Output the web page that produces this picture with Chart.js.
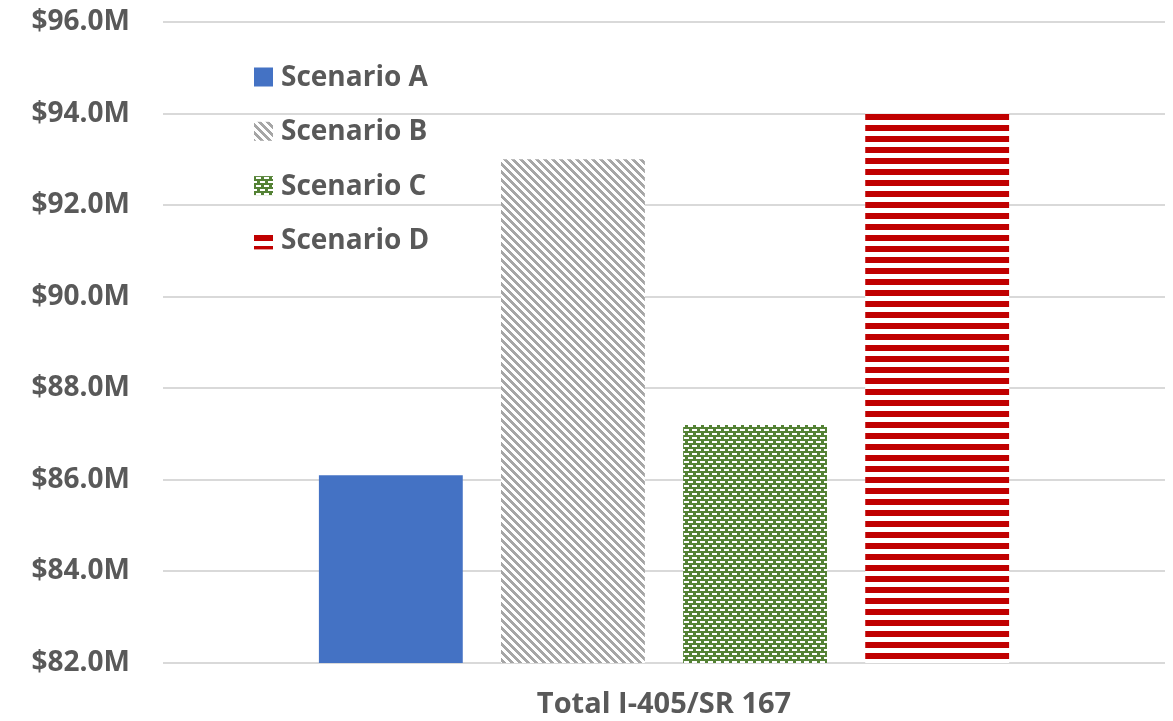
<!DOCTYPE html>
<html>
<head>
<meta charset="utf-8">
<script src="https://cdn.jsdelivr.net/npm/chart.js@4"></script>
<style>
  html, body { margin: 0; padding: 0; background: #ffffff; }
  #wrap { width: 1173px; height: 721px; }
</style>
</head>
<body>
<div id="wrap"><canvas id="c" width="1173" height="721"></canvas></div>
<script>
// Data
const categories = ['Total I-405/SR 167'];
const scenarioNames = ['Scenario A', 'Scenario B', 'Scenario C', 'Scenario D'];
const scenarioA = [86.1];
const scenarioB = [93.0];
const scenarioC = [87.2];
const scenarioD = [94.0];
const yMin = 82;
const yMax = 96;
const yStep = 2;

const TEXT = '#595959';
const FONT = 'Open Sans';

// Fill patterns
function tile(w, h, paint) {
  const cv = document.createElement('canvas');
  cv.width = w; cv.height = h;
  const g = cv.getContext('2d');
  paint(g);
  return document.getElementById('c').getContext('2d').createPattern(cv, 'repeat');
}

const solidBlue = '#4472c4';

// wide downward diagonal stripes, grey on white
const diagGrey = tile(8, 8, g => {
  g.fillStyle = '#ffffff'; g.fillRect(0, 0, 8, 8);
  g.fillStyle = '#a6a6a6';
  for (let y = 0; y < 8; y++) {
    for (let x = 0; x < 8; x++) {
      if (((x - y) % 8 + 8) % 8 < 4) g.fillRect(x, y, 1, 1);
    }
  }
});

// offset white dashes on green
const weaveGreen = tile(8, 8, g => {
  g.fillStyle = '#548235'; g.fillRect(0, 0, 8, 8);
  g.fillStyle = '#ffffff';
  g.fillRect(0, 1, 5, 2);
  g.fillRect(4, 5, 4, 2);
  g.fillRect(0, 5, 1, 2);
});

// horizontal red bands on white
const stripeRed = tile(1, 11, g => {
  g.fillStyle = '#ffffff'; g.fillRect(0, 0, 1, 11);
  g.fillStyle = '#c00000'; g.fillRect(0, 4, 1, 6);
});

const fills = [solidBlue, diagGrey, weaveGreen, stripeRed];
const series = [scenarioA, scenarioB, scenarioC, scenarioD];

// Legend drawn inside the plot area, top-left
const innerLegend = {
  id: 'innerLegend',
  afterDatasetsDraw(chart) {
    const ctx = chart.ctx;
    ctx.save();
    ctx.font = 'bold 28px "' + FONT + '"';
    ctx.textBaseline = 'middle';
    chart.data.datasets.forEach((ds, i) => {
      const cy = 77 + i * 54.3;
      ctx.fillStyle = ds.backgroundColor;
      ctx.fillRect(254, cy - 9.5, 19, 19);
      ctx.fillStyle = TEXT;
      ctx.fillText(ds.label, 281, cy + 1);
    });
    ctx.restore();
  }
};

new Chart(document.getElementById('c'), {
  type: 'bar',
  data: {
    labels: categories,
    datasets: series.map((vals, i) => ({
      label: scenarioNames[i],
      data: vals,
      backgroundColor: fills[i],
      borderWidth: 0,
      categoryPercentage: 0.727,
      barPercentage: 0.79
    }))
  },
  options: {
    responsive: false,
    animation: false,
    layout: { padding: { top: 22, right: 8, left: 0, bottom: 0 } },
    plugins: {
      legend: { display: false },
      tooltip: { enabled: false }
    },
    scales: {
      x: {
        grid: { display: false, drawTicks: false },
        border: { display: false },
        ticks: {
          color: TEXT,
          font: { family: FONT, size: 29, weight: 'bold' },
          padding: 24
        },
        afterFit(scale) { scale.height = 58; }
      },
      y: {
        min: yMin,
        max: yMax,
        grid: { color: '#d9d9d9', lineWidth: 2, drawTicks: false },
        border: { display: false },
        ticks: {
          stepSize: yStep,
          color: TEXT,
          font: { family: FONT, size: 28, weight: 'bold' },
          padding: 33,
          callback: v => '$' + Number(v).toFixed(1) + 'M'
        },
        afterFit(scale) {
          scale.width = 163;
          scale.paddingTop = 0;
          scale.paddingBottom = 0;
        }
      }
    }
  },
  plugins: [innerLegend]
});
</script>
</body>
</html>
